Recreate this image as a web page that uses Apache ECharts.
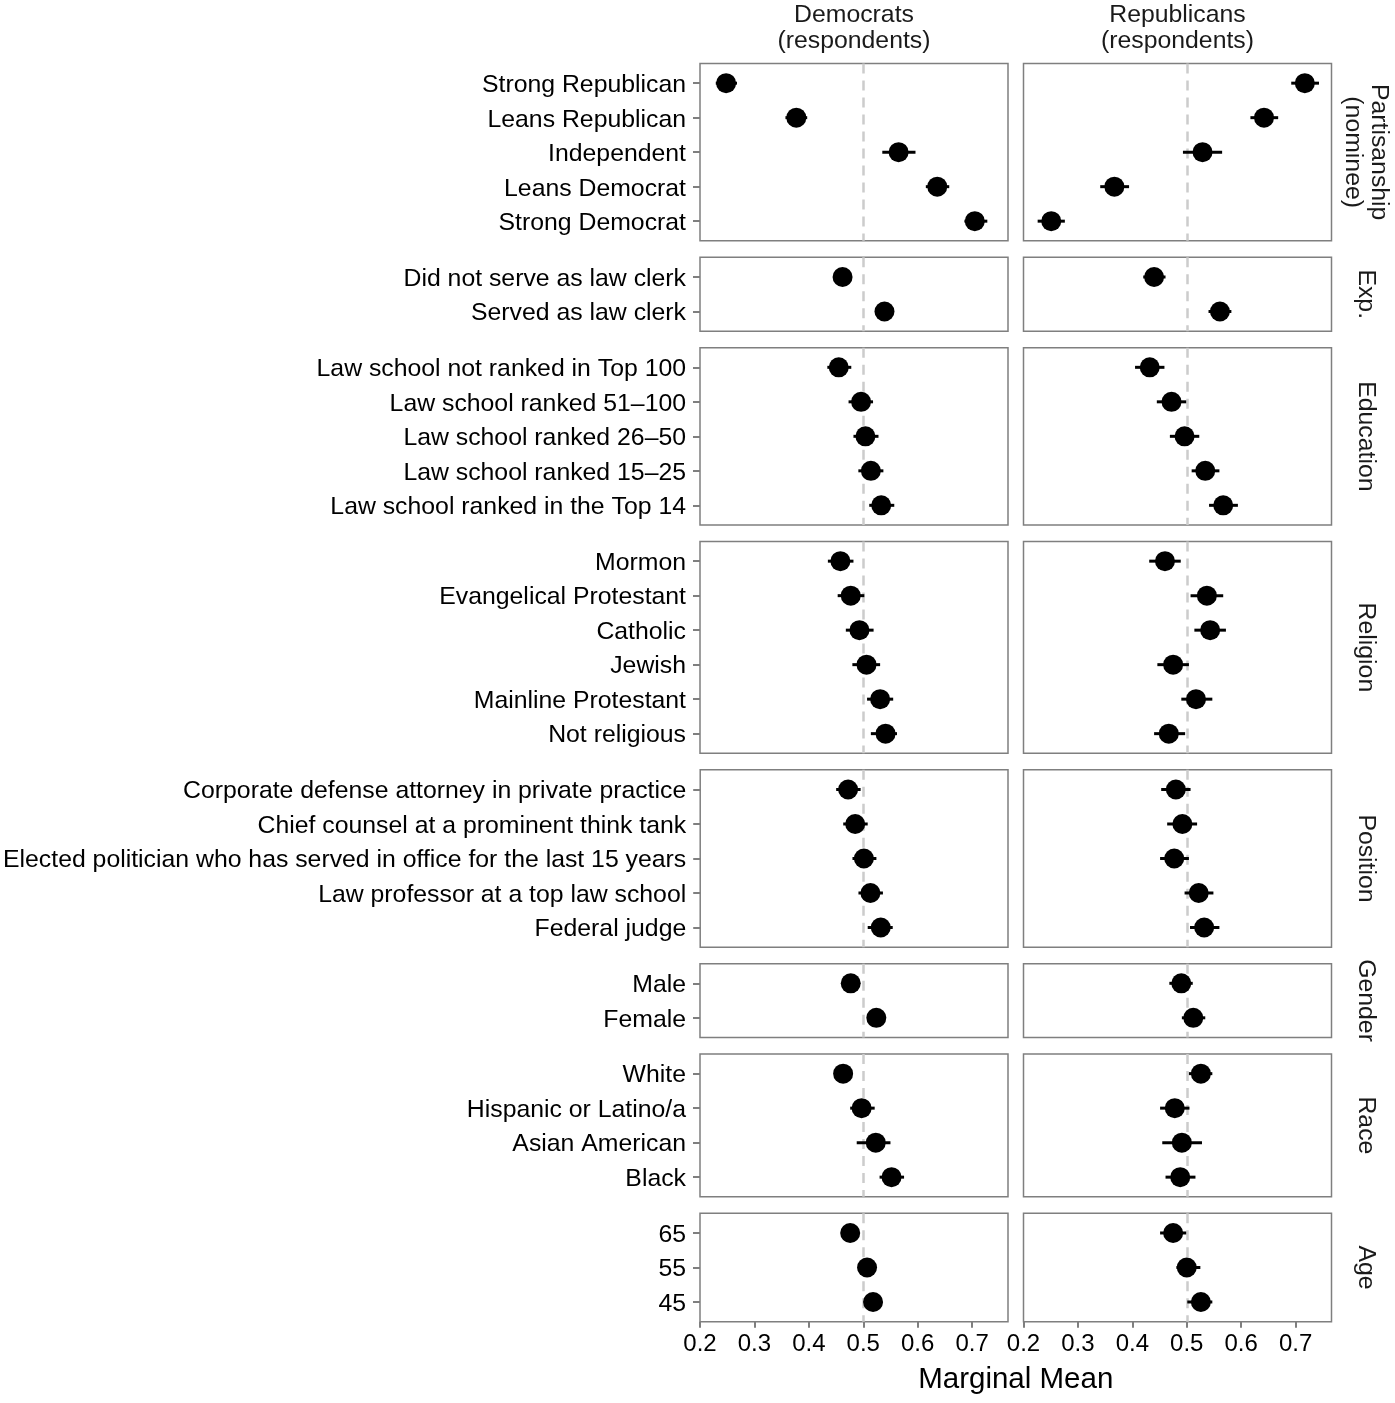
<!DOCTYPE html>
<html>
<head>
<meta charset="utf-8">
<script src="https://cdn.jsdelivr.net/npm/echarts@6/dist/echarts.min.js"></script>
<style>
  html, body { margin: 0; padding: 0; background: #fff; }
  #main { width: 1395px; height: 1403px; }
</style>
</head>
<body>
<div id="main"></div>
<script>
// each item is [mean, lower, upper], rows listed top to bottom
const partisanLabels = ['Strong Republican', 'Leans Republican', 'Independent', 'Leans Democrat', 'Strong Democrat'];
const partisanDem = [[0.248, 0.229, 0.268], [0.377, 0.357, 0.397], [0.565, 0.535, 0.596], [0.636, 0.615, 0.658], [0.705, 0.686, 0.728]];
const partisanRep = [[0.717, 0.692, 0.743], [0.642, 0.617, 0.668], [0.529, 0.493, 0.565], [0.367, 0.341, 0.394], [0.251, 0.226, 0.276]];

const expLabels = ['Did not serve as law clerk', 'Served as law clerk'];
const expDem = [[0.462, 0.448, 0.476], [0.539, 0.525, 0.553]];
const expRep = [[0.440, 0.420, 0.461], [0.561, 0.540, 0.582]];

const eduLabels = ['Law school not ranked in Top 100', 'Law school ranked 51\u2013100', 'Law school ranked 26\u201350', 'Law school ranked 15\u201325', 'Law school ranked in the Top 14'];
const eduDem = [[0.455, 0.434, 0.478], [0.496, 0.473, 0.518], [0.504, 0.482, 0.528], [0.514, 0.491, 0.537], [0.533, 0.511, 0.557]];
const eduRep = [[0.432, 0.405, 0.459], [0.472, 0.445, 0.499], [0.496, 0.469, 0.523], [0.534, 0.509, 0.560], [0.567, 0.541, 0.594]];

const relLabels = ['Mormon', 'Evangelical Protestant', 'Catholic', 'Jewish', 'Mainline Protestant', 'Not religious'];
const relDem = [[0.458, 0.435, 0.482], [0.477, 0.453, 0.502], [0.493, 0.468, 0.519], [0.506, 0.480, 0.531], [0.531, 0.507, 0.555], [0.541, 0.514, 0.562]];
const relRep = [[0.460, 0.431, 0.489], [0.537, 0.507, 0.567], [0.543, 0.514, 0.572], [0.475, 0.446, 0.504], [0.517, 0.490, 0.547], [0.467, 0.440, 0.497]];

const posLabels = ['Corporate defense attorney in private practice', 'Chief counsel at a prominent think tank', 'Elected politician who has served in office for the last 15 years', 'Law professor at a top law school', 'Federal judge'];
const posDem = [[0.472, 0.450, 0.495], [0.485, 0.463, 0.508], [0.501, 0.480, 0.524], [0.513, 0.491, 0.536], [0.532, 0.508, 0.554]];
const posRep = [[0.480, 0.453, 0.507], [0.492, 0.464, 0.519], [0.477, 0.451, 0.504], [0.522, 0.496, 0.549], [0.532, 0.506, 0.560]];

const genLabels = ['Male', 'Female'];
const genDem = [[0.477, 0.463, 0.491], [0.524, 0.510, 0.538]];
const genRep = [[0.490, 0.468, 0.511], [0.512, 0.491, 0.534]];

const raceLabels = ['White', 'Hispanic or Latino/a', 'Asian American', 'Black'];
const raceDem = [[0.463, 0.449, 0.477], [0.497, 0.476, 0.521], [0.523, 0.488, 0.550], [0.552, 0.530, 0.575]];
const raceRep = [[0.526, 0.504, 0.547], [0.478, 0.451, 0.505], [0.491, 0.455, 0.528], [0.488, 0.461, 0.516]];

const ageLabels = ['65', '55', '45'];
const ageDem = [[0.476, 0.462, 0.490], [0.507, 0.493, 0.521], [0.518, 0.504, 0.532]];
const ageRep = [[0.475, 0.451, 0.499], [0.500, 0.481, 0.525], [0.526, 0.501, 0.547]];

const xTicks = [0.2, 0.3, 0.4, 0.5, 0.6, 0.7];
const columnTitles = ['Democrats\n(respondents)', 'Republicans\n(respondents)'];

const groups = [
  { strip: 'Partisanship\n(nominee)', labels: partisanLabels, cols: [partisanDem, partisanRep] },
  { strip: 'Exp.', labels: expLabels, cols: [expDem, expRep] },
  { strip: 'Education', labels: eduLabels, cols: [eduDem, eduRep] },
  { strip: 'Religion', labels: relLabels, cols: [relDem, relRep] },
  { strip: 'Position', labels: posLabels, cols: [posDem, posRep] },
  { strip: 'Gender', labels: genLabels, cols: [genDem, genRep] },
  { strip: 'Race', labels: raceLabels, cols: [raceDem, raceRep] },
  { strip: 'Age', labels: ageLabels, cols: [ageDem, ageRep] }
];

const FONT = "'Liberation Sans', Arial, Helvetica, sans-serif";
const TOP = 63.5, GAP = 16.5, STEP = 34.5, PAD = 0.57;
const LEFT = [700, 1023.5], W = 308;
const BORDER = '#7f7f7f';

const chart = echarts.init(document.getElementById('main'), null, { renderer: 'canvas' });

const grid = [], xAxis = [], yAxis = [], series = [], graphic = [];
let y0 = TOP;
groups.forEach((g, gi) => {
  const n = g.labels.length;
  const h = (n - 1 + 2 * PAD) * STEP;
  const idx = g.labels.map((_, i) => i);
  const isBottom = gi === groups.length - 1;
  g.cols.forEach((vals, c) => {
    const k = grid.length;
    grid.push({
      left: LEFT[c], top: y0, width: W, height: h,
      show: true, borderColor: BORDER, borderWidth: 1.5, backgroundColor: '#fff'
    });
    xAxis.push({
      gridIndex: k, type: 'value', min: 0.2, max: 0.766, position: 'bottom',
      splitLine: { show: false }, axisLine: { show: false, onZero: false },
      axisTick: { show: isBottom, length: 6, customValues: xTicks, lineStyle: { color: BORDER, width: 2 } },
      axisLabel: {
        show: isBottom, customValues: xTicks, margin: 11,
        formatter: v => v.toFixed(1),
        color: '#000', fontSize: 24, fontFamily: FONT
      }
    });
    yAxis.push({
      gridIndex: k, type: 'value', inverse: true, min: -PAD, max: n - 1 + PAD, position: 'left',
      splitLine: { show: false }, axisLine: { show: false, onZero: false },
      axisTick: { show: c === 0, length: 7, customValues: idx, lineStyle: { color: BORDER, width: 2 } },
      axisLabel: {
        show: c === 0, customValues: idx, margin: 14,
        formatter: v => '{t|' + g.labels[Math.round(v)] + '}',
        rich: { t: { color: '#000', fontSize: 24.8, fontFamily: FONT, padding: [4, 0, 0, 0] } },
        color: '#000', fontSize: 24.8, fontFamily: FONT
      }
    });
    series.push({
      type: 'custom', xAxisIndex: k, yAxisIndex: k, z: 2,
      data: vals.map((d, i) => [d[0], i, d[1], d[2]]),
      encode: { x: [0, 2, 3], y: 1 },
      renderItem: (params, api) => {
        const a = api.coord([api.value(2), api.value(1)]);
        const b = api.coord([api.value(3), api.value(1)]);
        return {
          type: 'line',
          shape: { x1: a[0], y1: a[1], x2: b[0], y2: b[1] },
          style: { stroke: '#000', lineWidth: 3 }
        };
      },
      markLine: {
        silent: true, symbol: 'none', label: { show: false }, z: 1,
        lineStyle: { color: '#cccccc', type: [10, 7], width: 2.5, opacity: 1 },
        data: [{ xAxis: 0.5 }]
      }
    });
    series.push({
      type: 'scatter', xAxisIndex: k, yAxisIndex: k, z: 3,
      symbol: 'circle', symbolSize: 20,
      itemStyle: { color: '#000', opacity: 1 },
      data: vals.map((d, i) => [d[0], i])
    });
  });
  // strip label on the right
  graphic.push({
    type: 'text', x: 1366, y: y0 + h / 2, rotation: -Math.PI / 2,
    style: { text: g.strip, align: 'center', verticalAlign: 'middle', font: '24.8px ' + FONT, lineHeight: 26, fill: '#1a1a1a' }
  });
  y0 += h + GAP;
});

columnTitles.forEach((t, c) => {
  graphic.push({
    type: 'text', x: LEFT[c] + W / 2, y: 28,
    style: { text: t, align: 'center', verticalAlign: 'middle', font: '24.8px ' + FONT, lineHeight: 26, fill: '#1a1a1a' }
  });
});

graphic.push({
  type: 'text', x: (LEFT[0] + LEFT[1] + W) / 2, y: 1380,
  style: { text: 'Marginal Mean', align: 'center', verticalAlign: 'middle', font: '29.5px ' + FONT, fill: '#000' }
});

chart.setOption({
  backgroundColor: '#fff',
  animation: false,
  grid: grid,
  xAxis: xAxis,
  yAxis: yAxis,
  series: series,
  graphic: graphic
});
</script>
</body>
</html>
